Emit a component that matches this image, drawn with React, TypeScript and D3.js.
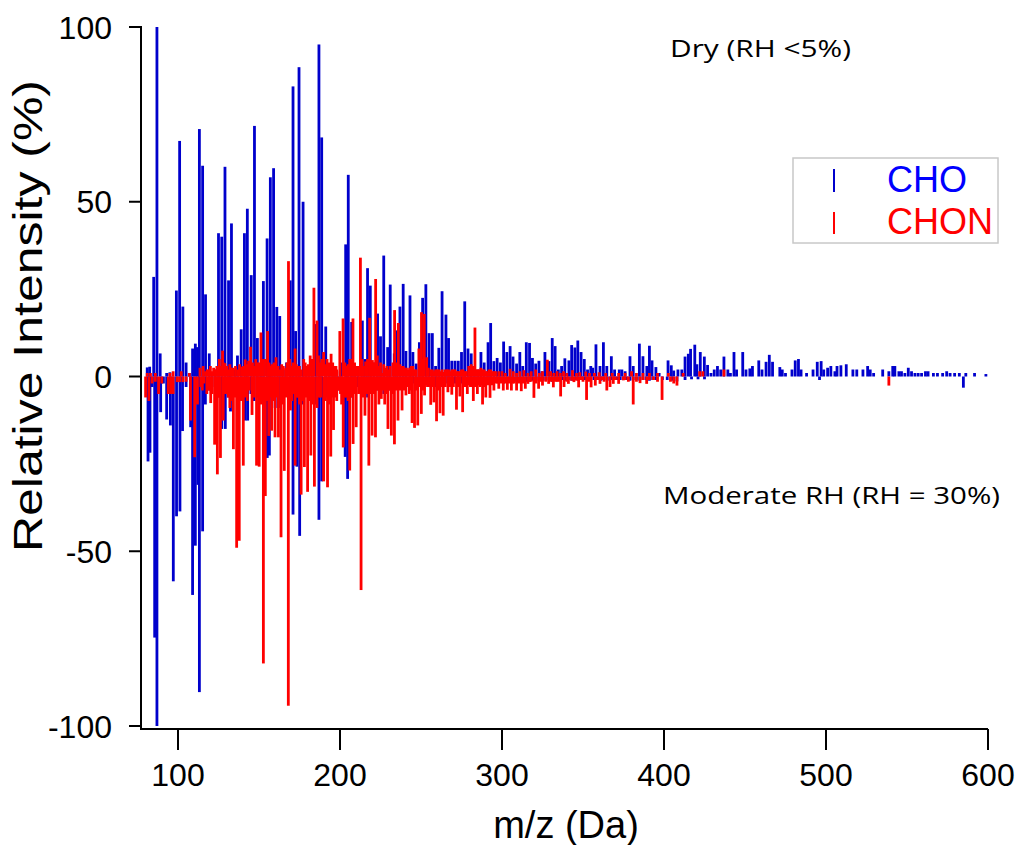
import React from "react";
import * as d3 from "d3";

// [m/z, relative intensity %]
const choDry: [number, number][] = [
  [81,2.6],[82.5,2.8],[85,28.5],[87,100],[89,6.6],[93,1],[95,1.2],[99,24.6],[101,67.4],[103,20],[105,4],[107,1],[109,8],[110.7,9.4],[112,8.4],[113.2,70.8],[115.2,60.3],[117,23.5],[119.3,6.6],[121,1],[123,2],[125,41],[127,40],[129,60],[131.2,27.5],[133,43.8],[135,2],[136.7,6],[139,13.5],[141,41],[142.8,48],[145.2,29],[147.2,71.7],[149,11],[151,3],[152.7,27.3],[155,39.5],[157,57],[159,59.6],[161,19.9],[162.8,17.3],[165,2],[167,4],[169.3,27.5],[171,83],[172.6,13],[174.7,88.5],[177.2,50],[179,3],[181,2.5],[183,4],[185,15],[187,95],[188.7,68.4],[191.2,14.3],[193.5,2.5],[196,2],[198,1.5],[200.6,4],[203.5,37.8],[205.1,57.7],[207.2,15.6],[209,2],[211,3],[213.8,16],[215.5,5],[217,31],[218.7,26],[221,4],[223.2,18],[225,11.5],[227,34.6],[229.4,8.4],[231,26.3],[233.5,6.6],[235,13.2],[237,20],[239,26.5],[240.7,7.3],[243.2,23.2],[245,7],[247,3.7],[249,9.8],[251,22.5],[253,26.4],[255,12.4],[257,12.4],[259,3],[261,8.2],[263,24.4],[265.4,17.7],[267,11],[269,4.5],[271,4.5],[273,4.5],[275,7],[277,21.5],[279,8],[281,6.6],[283,3],[285,2],[287,7],[289,4],[291.4,9.8],[293,15.3],[295,4.4],[297,5.3],[299,4],[301,10],[303,7],[305,8.7],[306.8,5.7],[309,3.7],[311,7],[312.8,3],[315,9.8],[317,9.6],[318.8,5.3],[320.8,3.7],[322.8,4.5],[324.6,1.5],[326.5,7],[329,4.4],[331,11],[332.8,8.7],[334.8,2],[336.8,3],[338.8,5.2],[341.3,4.6],[343,9],[345,8.3],[346.8,10.3],[348.8,7],[350.8,5],[352.8,2],[354.8,3],[356,2.5],[358,9.2],[360.5,3],[362.6,9.8],[364.7,3],[367.5,5.8],[369.5,2],[372.4,2],[374,2],[376,1.5],[379,5.8],[381,3],[384.8,9.4],[387,5.8],[389.4,3],[391,8.8],[392.6,4.6],[395,2.7],[397,1],[402.5,4.6],[404.5,3.2],[406,1.7],[408.6,2],[411,2],[413,5.7],[415,6.5],[416.4,7.9],[419,9.1],[420.3,3.5],[422.4,7],[424.9,5.7],[426.9,3.3],[429,1],[431,2],[433,3],[435,2],[437,5.7],[439.4,2],[441,1],[443.2,7],[444.8,2],[448.6,7],[450.6,2],[453,2.3],[454.6,3],[458.5,4.6],[460.5,2],[463,4.2],[465,6.2],[467,4.2],[471.5,2.7],[473,2],[475,1],[479,2],[481,4.6],[483,5],[484.6,2],[488,1],[492,2],[494.6,4.2],[497,4.4],[498.6,2],[501,2.5],[503,3],[505.5,1.5],[506.8,3],[509.2,3.2],[512.5,3.5],[516.6,2],[519,2],[522.8,2],[525.7,3],[527.3,2],[529.4,1],[535,2],[538.8,1.5],[541.2,3],[542.5,3],[545,1.5],[546.6,1.5],[548.7,1],[550.8,2.5],[552.8,1.5],[554.9,1],[556.9,1],[559,1],[561.4,1.5],[563,1.5],[566.3,1],[568.8,1],[572,1],[574.5,1.5],[576.6,1],[579.4,1],[582.3,1],[586.3,1],[591.7,1],[598.7,0.7],
];

const chonDry: [number, number][] = [
  [81,1],[83,1],[86,1],[95,1],[97,1.5],[102,1.5],[107,1],[113.6,2.5],[115.5,3],[117,1.5],[119,2],[121,1.5],[123,2],[125.5,5],[127.5,7.4],[129,3.8],[131,2],[133,2.5],[137,2],[138,3.5],[139.6,2.8],[141.5,4.9],[143.6,4.5],[144.8,8.5],[147,3],[149,4],[151.2,12.6],[152.5,5],[155.3,13],[157,3],[159.3,4],[160.5,5.5],[163,2],[165,3],[166.5,2.5],[168.2,33],[170,3],[172.3,8],[174,3],[176,2],[177.6,5],[179.5,3],[181.6,6],[183.9,25.4],[185.8,16],[187.5,4],[189.9,7],[192,5],[194.5,6.5],[196.5,3],[198,2],[199.9,13],[201.9,16.6],[204,3],[206,5],[208,16.6],[210,3],[212.6,34],[214.5,3],[215.8,4.3],[218.3,16.8],[220,4.7],[222,27.9],[224,3],[226,1],[228,2.5],[230,2],[233.7,19],[236,15.3],[238,3],[240,2.5],[242,2],[244,3],[246,2],[248.7,8],[250.3,18.4],[252,17.9],[253.5,5.5],[256,2],[258,1.5],[260,2],[262,1.5],[264,1.3],[266,2],[268,1.5],[270,2],[272,1.5],[274,1.5],[276,2],[278,1.5],[279.5,3],[281,3.5],[283.3,14],[285,2],[287,2.5],[289,2],[291,1.5],[293,2],[295,1.5],[298,1.5],[300,1.5],[302,1],[305,2.2],[307,1.5],[309,1],[311,1.5],[313.5,1.8],[316,1],[318,1.5],[320.8,2],[323,1],[325,1.5],[328,4.8],[330,1.5],[332,1],[334,1.5],[336,1],[338,1.5],[340,1],[343.5,1.8],[346,1],[348,1.2],[351.7,1.4],[354,1],[357,1],[360,1.2],[364,1],[368,1],[372,1],[376,1],[380,1.5],[383,1],[387,1],[391,1],[396,1],[402.7,1],[411.8,1],[422,1.5],[424,1.5],[437,2],
  [118,2],[120,3],[122,2.5],[124,3],[126.5,3],[128,4],[130,3],[132,3.5],[134,2.5],[135.5,3],[140.5,3],[142.5,3.5],[146,4],[148,5],[150,4],[154,5],[156.2,4],[158,3.5],[161.8,3],[164,3.5],[167.3,4],[169,5],[171,4],[173,3.5],[175,3],[178.5,4],[180.5,3.5],[182.7,5],[186.7,6],[188.7,5],[191,3.5],[193,4],[195.5,4],[197.5,3],[203,4],[205,3.5],[207,5],[209,4],[211,3],[213.6,5],[217,5],[219.2,3.5],[221,4],[223,6],[225,4],[227,3.5],[229,3],[231,3],[232.7,4],[235,4],[237,3.5],[239,3],[241,2.5],[243,2.5],[245,3],[247,2],[249.5,4],[251,5],[254.5,2.5],[257,2],[259,2],[261,2],[263,2],[265,2],[267,2],[269,2],[271,2],[273,1.5],[275,2],[277,1.5],[280.3,2.5],[282,3],[284,2],[286,2],[288,2],[290,1.5],[292,2],[294,1.5],[296,1.5],
];

const choModerate: [number, number][] = [
  [81.5,-24.3],[82.7,-21.8],[84,-3],[85.6,-74.7],[87,-100],[89.3,-10.2],[91,-2],[93,-12.3],[95.3,-14],[97.1,-58.6],[99.1,-40],[101.2,-38.6],[102.8,-15.6],[105,-3],[107.8,-14.5],[109,-62.5],[110.7,-48.4],[112.3,-31],[113.2,-90.3],[115.2,-44.3],[116.9,-8],[119,-4],[121,-3],[123,-5],[125,-6],[127,-15],[129.2,-15],[131,-6],[132.4,-10],[135,-4],[137,-3],[139,-6],[141.5,-12.6],[143,-12.6],[145,-5],[147,-7],[149,-4],[151,-3],[153,-5],[155.1,-23.3],[156.4,-22.6],[158,-5],[160,-9],[162,-9],[164,-4],[166,-5],[169,-6],[171,-39.5],[173.4,-25.8],[175.1,-45.6],[177,-8],[179,-5],[181,-4],[183,-6],[185,-8],[187,-41],[188.7,-30],[191,-6],[193,-5],[195,-4],[197,-3],[199,-4],[201,-3],[203.2,-23],[204.7,-29.3],[207,-6],[209,-4],[211,-3],[213,-3],[215,-4],[217,-6],[219,-5],[221,-3],[223,-4],[225,-3],[227,-5],[229,-3],[231,-4],[233,-3],[235,-3],[237,-2.5],[239,-3],[241,-2],[243,-2.5],[245,-2],[247,-2.5],[249,-2],[251,-3],[253,-2],[255,-2],[257,-2.5],[259,-3],[261,-3],[263,-2],[265,-2],[267,-2],[269,-1.5],[271,-2],[273,-1.5],[275,-2],[277,-2.5],[279,-1.5],[281,-2],[283,-1.5],[285,-1.5],[287,-2],[289,-1.5],[291,-2],[293,-2],[295,-1.5],[297,-1.5],[299,-1.5],[301,-2],[303,-1.5],[305,-1.5],[307,-1.5],[309,-1.5],[311,-1.5],[313,-1.2],[315,-1.5],[317,-1.5],[319,-1.2],[321,-1.2],[323,-1.2],[325,-1.2],[327,-1.2],[329,-1],[331,-1.5],[333,-1.2],[335,-1],[337,-1],[339,-1.2],[341,-1],[343,-1.2],[345,-1],[347,-1.2],[349,-1],[351,-1],[353,-1],[355,-1],[357,-1],[359,-1],[361,-1.2],[363,-1],[365,-1.2],[367,-1],[369,-1],[371,-1],[373,-1],[375,-1],[377,-1],[379,-1.2],[381,-1],[383,-1],[385,-1.2],[387,-1],[389,-1],[391,-1.2],[393,-1],[395,-1],[399,-1],[402,-1],[405,-1.2],[408,-1.4],[413,-1],[417,-0.8],[421,-0.8],[425,-0.8],[496,-1],[584.8,-3.2],
];

const chonModerate: [number, number][] = [
  [80,-6],[82,-7],[84,-2],[86,-1.5],[88,-5],[90,-2],[94,-5],[95.5,-5],[97,-5],[99.5,-1.6],[101,-1.6],[103,-1.6],[105,-1.5],[107.7,-12.6],[110.3,-23.1],[112,-8],[114,-3],[116,-2],[117.8,-5],[120.2,-7.6],[122.6,-19.5],[124.3,-28],[126.2,-23.3],[127.9,-12.6],[130,-5],[132,-9],[134.2,-20.8],[136.2,-49],[137.8,-47],[140.3,-25.5],[142.8,-7],[144,-4],[145.7,-11],[147,-6],[148.5,-25.5],[150.1,-25.8],[152.7,-82.1],[153.9,-34.2],[156,-17],[157.8,-15.5],[159.9,-17.4],[162,-17.4],[163.6,-46],[165.6,-27],[168.1,-94.2],[169.4,-9.7],[171,-5],[172.3,-25.5],[174,-6],[176,-33.8],[178,-25.9],[180,-33],[182,-22.6],[184.2,-31.5],[185.8,-9],[188,-6],[189.9,-30],[192.3,-31.7],[194.3,-22.9],[196,-15.3],[198,-7],[199.5,-4],[201,-8],[202,-20.3],[204,-6],[206,-26.9],[208.1,-19.3],[210,-14.5],[211.5,-5],[213,-61.1],[215.4,-11.2],[217.8,-25.5],[219.8,-16.9],[221.9,-17.4],[224,-8],[225.5,-6.4],[227.6,-8],[229.6,-15],[231.7,-16.9],[233.6,-19.4],[235.8,-12.6],[238.3,-9.7],[240.7,-5.4],[242.8,-5],[244.5,-13.3],[246,-14.7],[248,-14],[250.2,-10.7],[252.2,-5.4],[254,-3],[256,-8.1],[258,-7.4],[259.6,-12.8],[261.7,-10.5],[263.7,-11.2],[265,-3],[266.6,-4.5],[269,-5.2],[271.9,-9.5],[274,-5.7],[275.7,-10.2],[277,-3],[278.6,-5],[280.5,-3],[282.3,-7],[284.8,-5],[286.5,-3],[288,-8],[290,-6],[292.6,-6.1],[295,-4],[296.5,-2],[298,-3.5],[300.8,-4],[303.3,-3.8],[305.8,-4],[307.5,-2],[309,-4],[311.9,-4.2],[314.4,-3.5],[316,-2.1],[318,-1.5],[319.7,-6.1],[322.6,-3.5],[325,-2.6],[327,-1.5],[328.8,-2.1],[331.7,-3.1],[334,-1.5],[336.2,-5.7],[338.3,-3],[341,-2.1],[344.4,-1.6],[347.3,-3.1],[350,-1.5],[352.2,-6.7],[355,-3.1],[357.6,-2.6],[360.5,-2.1],[363,-1.5],[364.7,-4],[366.7,-3],[368.7,-2.1],[372,-2.1],[374.9,-1.1],[378,-1.5],[381,-8],[383,-1.5],[385.2,-1.9],[387,-1],[389.3,-2.1],[391,-1],[393.5,-1],[396,-1.5],[398.8,-6.7],[404,-1.5],[406,-2],[408,-2.6],[538.8,-2.6],
  [115,-4],[119,-4],[121,-5],[123.5,-6],[125.2,-6],[129,-5],[131,-6],[133,-7],[135,-6],[139,-7],[141.5,-6],[146.5,-5],[149.3,-6],[151.3,-8],[155,-7],[157,-6],[159,-7],[161,-6],[164.6,-8],[166.6,-6],[167.2,-5],[170.2,-7],[173.2,-6],[175,-8],[177,-7],[179,-6],[181,-7],[183,-8],[187,-6],[191,-7],[193.3,-8],[195.2,-6],[197,-6],[200.3,-5],[203,-6],[205,-7],[207,-6],[209,-5],[212,-4],[214.2,-6],[216.6,-5],[218.8,-5],[220.8,-5],[223,-4],[226.5,-4],[228.6,-5],[230.6,-4],[232.6,-5],[234.7,-4],[237,-4],[239.5,-4],[241.8,-3],[243.6,-4],[247,-4],[249,-3],[251.2,-4],[253,-2.5],[255,-3],[257,-3],[260.6,-4],[262.7,-3],[264.4,-3],[267.8,-3],[270,-3],[273,-3],[276.5,-3],[279.5,-2.5],[281.5,-3],[283.5,-3],[285.7,-2.5],[287.2,-2.5],[289,-3],[291.3,-2.5],[293.7,-2.5],[297.3,-2],[299.5,-2],[302,-2],[304.5,-2],[306.5,-2],[310.5,-2],[313,-2],[317,-1.5],[321,-2],[324,-1.5],[330,-1.5],[333,-1.5],[335,-1.5],[340,-1.5],[343,-1.2],[346,-1.2],[349,-1],[353.5,-1.5],[359,-1],[362,-1],[370,-1],[376,-1],
];

const xTicks = [100, 200, 300, 400, 500, 600];
const yTicks = [100, 50, 0, -50, -100];

const BLUE = "#0000cc";
const RED = "#ff0000";
const FONT = "'Liberation Sans', Arial, sans-serif";
const ANNOT_FONT = "'Open Sans', 'Noto Sans', sans-serif";

export default function App() {
  const W = 1016, H = 845;
  const left = 141, right = 988, top = 27, bottom = 726, axisY = 729;
  const x = d3.scaleLinear().domain([77.16, 600]).range([left, right]);
  const y = d3.scaleLinear().domain([-100, 100]).range([bottom, top]);
  const bw = 2.8;

  const bars = (data: [number, number][], color: string, key: string) =>
    data.map(([m, v], i) => {
      const y0 = y(0), y1 = y(v);
      return (
        <rect key={key + i} x={x(m) - bw / 2} y={Math.min(y0, y1)} width={bw}
          height={Math.max(0.8, Math.abs(y1 - y0))} fill={color} />
      );
    });

  return (
    <svg width={W} height={H} style={{ position: "absolute", left: 0, top: 0, background: "#fff" }}>
      <rect x={0} y={0} width={W} height={H} fill="#fff" />
      <g>
        {bars(choDry, BLUE, "cd")}
        {bars(choModerate, BLUE, "cm")}
        {bars(chonDry, RED, "nd")}
        {bars(chonModerate, RED, "nm")}
      </g>
      {/* axes */}
      <line x1={left} x2={left} y1={top - 1} y2={axisY + 1} stroke="#000" strokeWidth={2} />
      <line x1={left - 1} x2={right} y1={axisY} y2={axisY} stroke="#000" strokeWidth={2} />
      {yTicks.map((t) => (
        <g key={"yt" + t}>
          <line x1={left - 12} x2={left} y1={y(t)} y2={y(t)} stroke="#000" strokeWidth={2} />
          <text x={112} y={y(t)} dy="0.36em" textAnchor="end" fontFamily={FONT} fontSize={32}>{t}</text>
        </g>
      ))}
      {xTicks.map((t) => (
        <g key={"xt" + t}>
          <line x1={x(t)} x2={x(t)} y1={axisY} y2={axisY + 21} stroke="#000" strokeWidth={2} />
          <text x={x(t)} y={786} textAnchor="middle" fontFamily={FONT} fontSize={32}>{t}</text>
        </g>
      ))}
      <text x={566} y={838} textAnchor="middle" fontFamily={FONT} fontSize={38}>m/z (Da)</text>
      <text transform={`translate(42, 316) rotate(-90)`} textAnchor="middle" fontFamily={FONT} fontSize={40}
        textLength={472} lengthAdjust="spacingAndGlyphs">
        Relative Intensity (%)
      </text>
      {/* annotations */}
      <text x={670} y={57} fontFamily={ANNOT_FONT} fontSize={24} textLength={181} lengthAdjust="spacingAndGlyphs">Dry (RH &lt;5%)</text>
      <text x={663} y={504} fontFamily={ANNOT_FONT} fontSize={24} textLength={337} lengthAdjust="spacingAndGlyphs">Moderate RH (RH = 30%)</text>
      {/* legend */}
      <rect x={793} y={158} width={205} height={85} fill="#fff" stroke="#c8c8c8" strokeWidth={1.5} />
      <line x1={834} x2={834} y1={169} y2={192} stroke={BLUE} strokeWidth={2} />
      <line x1={834} x2={834} y1={212} y2={234} stroke={RED} strokeWidth={2} />
      <text x={887} y={192} fontFamily={FONT} fontSize={36} fill="#0000ff">CHO</text>
      <text x={887} y={234} fontFamily={FONT} fontSize={36} fill="#ff0000">CHON</text>
    </svg>
  );
}
